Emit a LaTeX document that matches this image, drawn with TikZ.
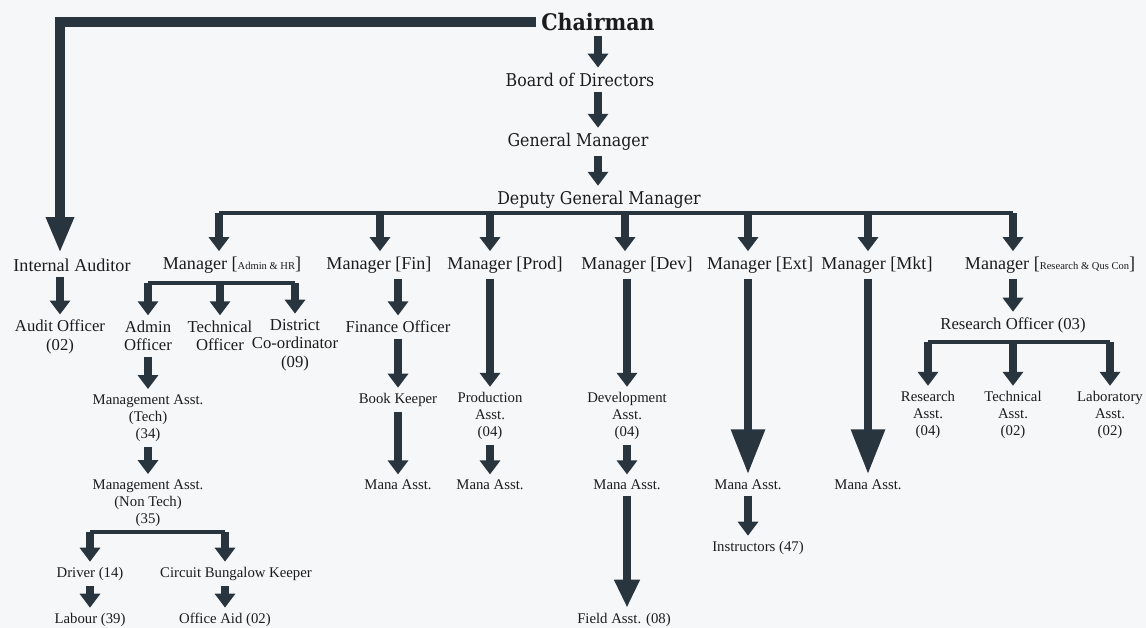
\documentclass[tikz,border=0pt]{standalone}
\usepackage{fontspec}
\setmainfont{Liberation Serif}
\newfontfamily\headfont{DejaVu Serif Condensed}
\usetikzlibrary{arrows.meta}
\definecolor{shaft}{RGB}{40,52,62}
\definecolor{ink}{RGB}{28,28,30}
\definecolor{paper}{RGB}{246,247,249}
\newcommand{\dept}[1]{[{\fontsize{6}{7}\selectfont #1}]}

\begin{document}
\begin{tikzpicture}[x=0.02cm,y=-0.02cm,
    head/.style={font=\headfont\fontsize{10}{12}\selectfont, text=ink, inner sep=1pt},
    chairhead/.style={head, font=\headfont\bfseries\fontsize{13}{15}\selectfont},
    post/.style={font=\fontsize{10.3}{11}\selectfont, text=ink, inner sep=1pt, align=center},
    sub/.style={font=\fontsize{9.5}{10.5}\selectfont, text=ink, inner sep=1pt, align=center},
    small/.style={font=\fontsize{8.4}{9.6}\selectfont, text=ink, inner sep=1pt, align=center},
    flow/.style={draw=shaft, line width=4.5pt, -{Triangle[width=0.4cm,length=0.28cm]},
        shorten <=2pt, shorten >=2pt},
    midflow/.style={flow, -{Triangle[width=0.48cm,length=0.56cm]}},
    bigflow/.style={flow, line width=5pt, -{Triangle[width=0.64cm,length=0.9cm]}},
    bar/.style={draw=shaft, line width=2.6pt}]

    \path[use as bounding box, fill=paper] (0,0) rectangle (1146,628);

    % top of the chart
    \node[chairhead] (chair) at (598,22) {Chairman};
    \node[head] (bod) at (580,80) {Board of Directors};
    \node[head] (gm) at (578,142) {General Manager};
    \node[head] (dgm) at (599,200) {Deputy General Manager};

    % managers
    \node[post] (ia) at (72,265) {Internal Auditor};
    \node[post] (madm) at (232,265) {Manager \dept{Admin \& HR}};
    \node[post] (mfin) at (379,265) {Manager [Fin]};
    \node[post] (mprod) at (505,265) {Manager [Prod]};
    \node[post] (mdev) at (637,265) {Manager [Dev]};
    \node[post] (mext) at (760,265) {Manager [Ext]};
    \node[post] (mmkt) at (877,265) {Manager [Mkt]};
    \node[post] (mrq) at (1050,265) {Manager \dept{Research \& Qus Con}};

    % officers
    \node[sub] (ao) at (60,337) {Audit Officer\\(02)};
    \node[sub] (aof) at (148,336) {Admin\\Officer};
    \node[sub] (tof) at (220,336) {Technical\\Officer};
    \node[sub] (dco) at (295,345) {District\\Co-ordinator\\(09)};
    \node[sub] (fo) at (398,327) {Finance Officer};
    \node[sub] (ro) at (1013,325) {Research Officer (03)};

    % assistants
    \node[small] (mat) at (148,418) {Management Asst.\\(Tech)\\(34)};
    \node[small] (bk) at (398,400) {Book Keeper};
    \node[small] (pa) at (490,416) {Production\\Asst.\\(04)};
    \node[small] (da) at (627,416) {Development\\Asst.\\(04)};
    \node[small] (ra) at (928,415) {Research\\Asst.\\(04)};
    \node[small] (ta) at (1013,415) {Technical\\Asst.\\(02)};
    \node[small] (la) at (1110,415) {Laboratory\\Asst.\\(02)};

    \node[small] (mant) at (148,503) {Management Asst.\\(Non Tech)\\(35)};
    \node[small] (mfa) at (398,485) {Mana Asst.};
    \node[small] (mpa) at (490,485) {Mana Asst.};
    \node[small] (mda) at (627,485) {Mana Asst.};
    \node[small] (mea) at (748,485) {Mana Asst.};
    \node[small] (mma) at (868,485) {Mana Asst.};

    \node[small] (drv) at (90,574) {Driver (14)};
    \node[small] (cbk) at (236,574) {Circuit Bungalow Keeper};
    \node[small] (ins) at (758,548) {Instructors (47)};
    \node[small] (fa) at (624,620) {Field Asst. (08)};
    \node[small] (lab) at (90,620) {Labour (39)};
    \node[small] (oa) at (225,620) {Office Aid (02)};

    % connectors
    \draw[bigflow, line width=5.5pt, -{Triangle[width=0.52cm,length=0.72cm]}]
        (chair.west) -| (ao |- ia.north);
    \draw[flow] (chair.south) -- (chair.south |- bod.north);
    \draw[flow] (bod.south -| chair) -- (gm.north -| chair);
    \draw[flow] (gm.south -| chair) -- (dgm.north -| chair);

    \foreach \n/\x in {madm/219,mfin/380,mprod/490,mdev/625,mext/748,mmkt/868,mrq/1013}
        \coordinate (in-\n) at (\x,213);
    \draw[bar, line width=2.2pt] (in-madm) -- (in-mrq);
    \foreach \n in {madm,mfin,mprod,mdev,mext,mmkt,mrq}
        \draw[flow, shorten <=0pt] (in-\n) -- (in-\n |- \n.north);

    \draw[flow] (ia.south -| ao) -- (ao.north);

    \coordinate (admbar) at (220,283);
    \draw[bar] (admbar -| aof) -- (admbar -| dco);
    \foreach \n in {aof,tof,dco}
        \draw[flow, shorten <=0pt] (admbar -| \n) -- (\n.north);
    \draw[flow] (aof) -- (mat);
    \draw[flow] (mat) -- (mant);

    \coordinate (ntbar) at (150,532);
    \draw[bar] (ntbar -| drv) -- (ntbar -| oa);
    \draw[flow, shorten <=0pt] (ntbar -| drv) -- (drv.north);
    \draw[flow, shorten <=0pt] (ntbar -| oa) -- (oa |- cbk.north);
    \draw[flow] (drv) -- (lab);
    \draw[flow] (cbk.south -| oa) -- (oa.north);

    \draw[flow] (mfin.south -| fo) -- (fo.north);
    \draw[flow] (fo) -- (bk);
    \draw[flow] (bk) -- (mfa);

    \draw[flow] (mprod.south -| pa) -- (pa.north);
    \draw[flow] (pa) -- (mpa);

    \draw[flow] (mdev.south -| da) -- (da.north);
    \draw[flow] (da) -- (mda);
    \draw[midflow] (mda) -- (mda |- fa.north);

    \draw[bigflow] (mext.south -| mea) -- (mea.north);
    \draw[flow] (mea) -- (mea |- ins.north);

    \draw[bigflow] (mmkt.south -| mma) -- (mma.north);

    \draw[flow] (mrq.south -| ro) -- (ro.north);
    \coordinate (robar) at (1013,342);
    \draw[bar] (robar -| ra) -- (robar -| la);
    \foreach \n in {ra,ta,la}
        \draw[flow, shorten <=0pt] (robar -| \n) -- (\n.north);
\end{tikzpicture}
\end{document}
